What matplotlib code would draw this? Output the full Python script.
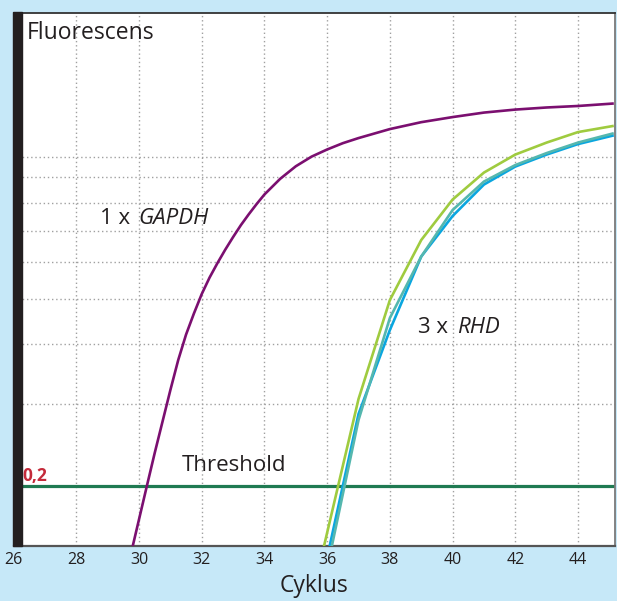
import matplotlib
matplotlib.use("Agg")
import matplotlib.pyplot as plt
from matplotlib.patches import Rectangle

# ---- data ----
gapdh_x = [29.8, 30.25, 30.5, 31.0, 31.25, 31.5, 31.75, 32.0, 32.25, 32.5, 32.75, 33.0, 33.25, 33.5, 33.75, 34.0, 34.5,
           35.0, 35.5, 36.0, 36.5, 37.0, 37.5, 38.0, 39.0, 40.0, 41.0, 42.0, 43.0, 44.0, 45.1]
gapdh_y = [0.0, 0.2, 0.31, 0.52, 0.62, 0.705, 0.775, 0.84, 0.895, 0.943, 0.988, 1.03, 1.07, 1.106, 1.14, 1.172, 1.224,
           1.266, 1.298, 1.322, 1.343, 1.36, 1.375, 1.39, 1.413, 1.43, 1.445, 1.455, 1.462, 1.467, 1.475]

rhd_green_x = [35.9, 37.0, 38.0, 39.0, 40.0, 41.0, 42.0, 43.0, 44.0, 45.1]
rhd_green_y = [0.0, 0.49, 0.82, 1.02, 1.155, 1.245, 1.305, 1.345, 1.38, 1.40]

rhd_blue_x = [36.08, 37.0, 38.0, 39.0, 40.0, 41.0, 42.0, 43.0, 44.0, 45.1]
rhd_blue_y = [0.0, 0.44, 0.72, 0.965, 1.10, 1.205, 1.265, 1.305, 1.34, 1.368]

rhd_teal_x = [36.15, 37.0, 38.0, 39.0, 40.0, 41.0, 42.0, 43.0, 44.0, 45.1]
rhd_teal_y = [0.0, 0.42, 0.76, 0.965, 1.12, 1.215, 1.27, 1.31, 1.345, 1.375]

threshold = 0.2
x_ticks = [26, 28, 30, 32, 34, 36, 38, 40, 42, 44]
y_grid = [0.473, 0.673, 0.823, 0.947, 1.05, 1.143, 1.23, 1.297]

plt.rcParams['font.family'] = ['Open Sans', 'DejaVu Sans']

W, H = 617, 601
fig = plt.figure(figsize=(W / 100, H / 100), dpi=100)
fig.patch.set_facecolor('#c6e8f8')

ax = fig.add_axes([13.6 / W, 55 / H, (615 - 13.6) / W, (588 - 55) / H])
ax.set_facecolor('white')
ax.set_xlim(26, 45.18)
ax.set_ylim(0, 1.777)

# grid
for gx in x_ticks[1:]:
    ax.axvline(gx, color='#a0a0a0', lw=1.0, ls=(0, (1, 2)), zorder=1)
for gy in y_grid:
    ax.axhline(gy, color='#a0a0a0', lw=1.0, ls=(0, (1, 2)), zorder=1)

# curves
ax.plot(gapdh_x, gapdh_y, color='#7b0f70', lw=1.9, zorder=3)
ax.plot(rhd_blue_x, rhd_blue_y, color='#0aa6df', lw=1.9, zorder=3)
ax.plot(rhd_teal_x, rhd_teal_y, color='#55b7ae', lw=1.9, zorder=3)
ax.plot(rhd_green_x, rhd_green_y, color='#9fcb3f', lw=1.9, zorder=3)

# threshold
ax.axhline(threshold, color='#1f7a52', lw=2.3, zorder=2)

# spines
ax.spines['left'].set_visible(False)
ax.spines['top'].set_color('#333333')
ax.spines['top'].set_linewidth(1.3)
ax.spines['right'].set_color('#7a7a7a')
ax.spines['right'].set_linewidth(1.3)
ax.spines['bottom'].set_color('#555555')
ax.spines['bottom'].set_linewidth(1.6)

fig.patches.append(Rectangle((12.7 / W, 55 / H), 9.3 / W, 534 / H,
                             transform=fig.transFigure, color='#231f20', zorder=5))

ax.set_yticks([])
ax.set_xticks(x_ticks)
ax.set_xticklabels([str(t) for t in x_ticks], fontsize=11.5, color='#231f20')
ax.tick_params(axis='x', length=0, pad=4)
ax.set_xlabel('Cyklus', fontsize=16.5, color='#231f20', labelpad=5)

# texts
ax.text(26.43, 1.71, 'Fluorescens', fontsize=16.5, color='#231f20', va='center', ha='left')
ax.text(28.76, 1.093, '1 x', fontsize=16, color='#231f20', va='center', ha='left')
ax.text(29.98, 1.093, 'GAPDH', fontsize=16, style='italic', color='#231f20', va='center', ha='left')
ax.text(38.9, 0.727, '3 x', fontsize=16, color='#231f20', va='center', ha='left')
ax.text(40.15, 0.727, 'RHD', fontsize=16, style='italic', color='#231f20', va='center', ha='left')
ax.text(31.35, 0.27, 'Threshold', fontsize=16, color='#231f20', va='center', ha='left')
ax.text(26.27, 0.233, '0,2', fontsize=12.5, fontweight='bold', color='#c42a3a', va='center', ha='left')

fig.savefig('out.png', dpi=100, facecolor=fig.get_facecolor())
